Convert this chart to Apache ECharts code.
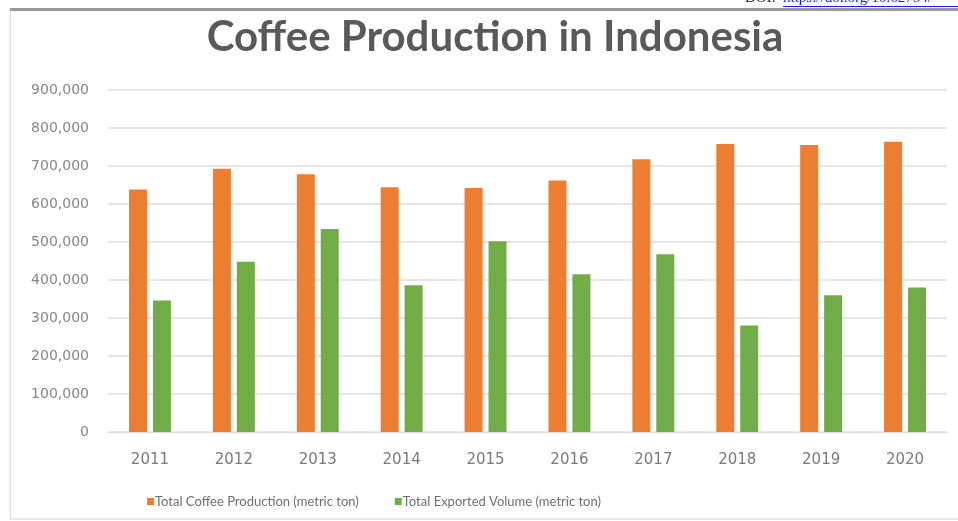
<!DOCTYPE html>
<html>
<head>
<meta charset="utf-8">
<script src="https://cdn.jsdelivr.net/npm/echarts@6/dist/echarts.min.js"></script>
<style>
  html, body { margin: 0; padding: 0; background: #ffffff; }
  #chart { width: 958px; height: 521px; }
</style>
</head>
<body>
<div id="chart"></div>
<script>
// Indonesian coffee: production vs. exports, 2011–2020 (metric tons)
const years = ['2011', '2012', '2013', '2014', '2015', '2016', '2017', '2018', '2019', '2020'];
const production = [638000, 693000, 678000, 644000, 642000, 662000, 718000, 758000, 755000, 764000];
const exported = [346000, 448000, 534000, 386000, 502000, 415000, 468000, 280000, 360000, 380000];
const productionName = 'Total Coffee Production (metric ton)';
const exportedName = 'Total Exported Volume (metric ton)';

const chart = echarts.init(document.getElementById('chart'), null, { renderer: 'canvas' });
const FONT = 'Lato, "Open Sans", sans-serif';
const AXIS_FONT = '"DejaVu Sans", sans-serif';

chart.setOption({
  animation: false,
  backgroundColor: '#ffffff',
  title: {
    text: 'Coffee Production in Indonesia',
    left: 490,
    textAlign: 'center',
    top: 11,
    textStyle: { fontFamily: FONT, fontWeight: 'bold', fontSize: 42, color: '#595959' }
  },
  legend: {
    bottom: 8,
    left: 142,
    itemWidth: 7,
    itemHeight: 7,
    itemGap: 36,
    icon: 'rect',
    textStyle: { fontFamily: FONT, fontSize: 13, color: '#6f6f6f', padding: [0, 0, 0, -4] },
    data: [productionName, exportedName]
  },
  grid: { left: 108, right: 11, top: 90, bottom: 89 },
  xAxis: {
    type: 'category',
    data: years,
    axisTick: { show: false },
    axisLine: { lineStyle: { color: '#d9d9d9', width: 1 } },
    axisLabel: { fontFamily: AXIS_FONT, fontSize: 15, color: '#7a7a7a', margin: 21 }
  },
  yAxis: {
    type: 'value',
    min: 0,
    max: 900000,
    interval: 100000,
    axisLine: { show: false },
    axisTick: { show: false },
    splitLine: { lineStyle: { color: '#dcdcdc', width: 1.5 } },
    axisLabel: {
      fontFamily: AXIS_FONT, fontSize: 14, color: '#868686', margin: 19,
      formatter: v => v.toLocaleString('en-US')
    }
  },
  series: [
    {
      name: productionName,
      type: 'bar',
      data: production,
      barWidth: 18,
      barGap: '33%',
      itemStyle: { color: '#ed7d31' }
    },
    {
      name: exportedName,
      type: 'bar',
      data: exported,
      barWidth: 18,
      itemStyle: { color: '#70ad47' }
    }
  ],
  graphic: [
    // frame around the chart
    { type: 'rect', shape: { x: 10.5, y: 9, width: 960, height: 510 },
      style: { fill: 'none', stroke: '#e2e2e2', lineWidth: 1.5 }, silent: true },
    { type: 'rect', shape: { x: 10, y: 8, width: 948, height: 3 },
      style: { fill: '#9a9a9a' }, silent: true },
    // page header peeking in above the frame
    { type: 'text', left: 745, top: -9,
      style: { text: 'DOI:', fill: '#222222', font: '15px "Liberation Serif", serif' } },
    { type: 'text', left: 783, top: -9,
      style: { text: 'https://doi.org/10.62754/', fill: '#1a1aff', font: '15px "Liberation Serif", serif' } },
    { type: 'rect', shape: { x: 783, y: 6, width: 175, height: 1 }, style: { fill: '#1a1aff' } }
  ]
});
</script>
</body>
</html>
